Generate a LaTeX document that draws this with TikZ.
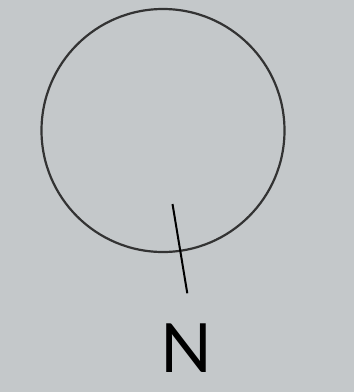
\documentclass[tikz,border=0pt]{standalone}
\usepackage{fontspec}
\setmainfont{Lato}
\definecolor{bg}{HTML}{C4C8CA}
\definecolor{ring}{HTML}{333333}
\begin{document}
\begin{tikzpicture}[x=1pt,y=-1pt,
  ringstyle/.style={draw=ring,line width=2.2pt},
  tick/.style={draw=black,line width=2pt},
  label/.style={inner sep=0pt,font=\fontsize{68}{68}\selectfont,text=black}]
\fill[bg] (0,0) rectangle (354,392);
\useasboundingbox (0,0) rectangle (354,392);
\node[ringstyle,circle,minimum size=243pt,inner sep=0pt] (c) at (163,130.5) {};
\coordinate (t1) at (172.5,204);
\coordinate (t2) at (187.3,293.3);
\draw[tick] (t1) -- (t2);
\node[label,anchor=base] (n) at (186.7,372.7) {N};
\end{tikzpicture}
\end{document}
